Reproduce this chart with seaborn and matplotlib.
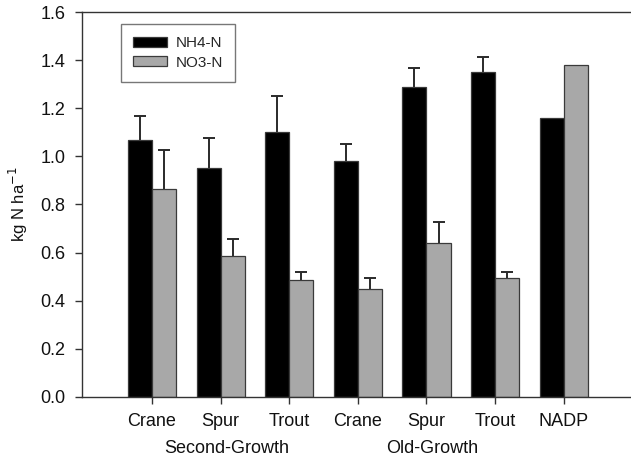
import numpy as np
import pandas as pd
import matplotlib
matplotlib.use("Agg")
import matplotlib.pyplot as plt
import seaborn as sns

sites = ["Crane", "Spur", "Trout", "Crane ", "Spur ", "Trout ", "NADP"]
site_labels = ["Crane", "Spur", "Trout", "Crane", "Spur", "Trout", "NADP"]
nh4 = [1.07, 0.953, 1.10, 0.983, 1.287, 1.351, 1.162]
no3 = [0.866, 0.585, 0.486, 0.449, 0.641, 0.495, 1.381]
nh4_err = [0.097, 0.124, 0.150, 0.069, 0.082, 0.061, np.nan]
no3_err = [0.160, 0.071, 0.031, 0.043, 0.088, 0.023, np.nan]
series = ["NH4-N", "NO3-N"]
groups = ["Second-Growth", "Old-Growth"]
group_centers = [1, 4]
yticks = [0.0, 0.2, 0.4, 0.6, 0.8, 1.0, 1.2, 1.4, 1.6]

sns.set_style("ticks")
plt.rcParams["font.family"] = ["Liberation Sans", "DejaVu Sans"]

df = pd.DataFrame({
    "site": sites * 2,
    "value": nh4 + no3,
    "series": [series[0]] * len(sites) + [series[1]] * len(sites),
})

fig = plt.figure(figsize=(6.31, 4.57), dpi=100)
ax = fig.add_axes([82 / 631, (457 - 396.7) / 457, (631 - 82) / 631, 384.4 / 457])

sns.barplot(data=df, x="site", y="value", hue="series", order=sites,
            hue_order=series, palette=["#000000", "#a8a8a8"], width=0.7,
            gap=0, edgecolor="#3a3a3a", linewidth=0.9, errorbar=None,
            saturation=1, ax=ax)

for cont, errs in zip(ax.containers, [nh4_err, no3_err]):
    xs = [b.get_x() + b.get_width() / 2 for b in cont]
    hs = [b.get_height() for b in cont]
    e = np.array(errs)
    eb = ax.errorbar(xs, hs, yerr=[np.zeros_like(e), e], fmt="none",
                     ecolor="#2a2a2a", elinewidth=1.4, capsize=4, capthick=1.4,
                     zorder=1)
    caps = eb[1]
    if len(caps) == 2:
        caps[0].set_visible(False)

ax.set_xlim(-1.02, 6.98)
ax.set_ylim(0, 1.6)
ax.set_yticks(yticks)
ax.set_yticklabels([f"{t:.1f}" for t in yticks])
ax.set_xticks(range(len(sites)))
ax.set_xticklabels(site_labels)
ax.tick_params(axis="both", labelsize=13, length=5, width=1, color="#333333",
               direction="out", pad=7, labelcolor="#111111")
ax.set_xlabel("")
ax.set_ylabel("kg N ha$^{-1}$", fontsize=12, labelpad=7, color="#111111")

for sp in ["left", "bottom", "top"]:
    ax.spines[sp].set_visible(True)
    ax.spines[sp].set_color("#333333")
    ax.spines[sp].set_linewidth(1)
ax.spines["right"].set_visible(False)

trans = matplotlib.transforms.blended_transform_factory(ax.transData, ax.transAxes)
for g, c in zip(groups, group_centers):
    ax.text(c + 0.09, -0.1465, g, transform=trans, ha="center", va="baseline",
            fontsize=13, color="#111111")

handles, labels = ax.get_legend_handles_labels()
leg = ax.legend(handles, labels, loc="upper left", bbox_to_anchor=(0.0705, 0.9696),
                borderaxespad=0, frameon=True, fancybox=False, fontsize=11,
                handlelength=2.2, handleheight=0.65, handletextpad=0.6,
                borderpad=0.8, labelspacing=0.35)
leg.get_frame().set_edgecolor("#555555")
leg.get_frame().set_linewidth(1)

fig.savefig("out.png", dpi=100)
